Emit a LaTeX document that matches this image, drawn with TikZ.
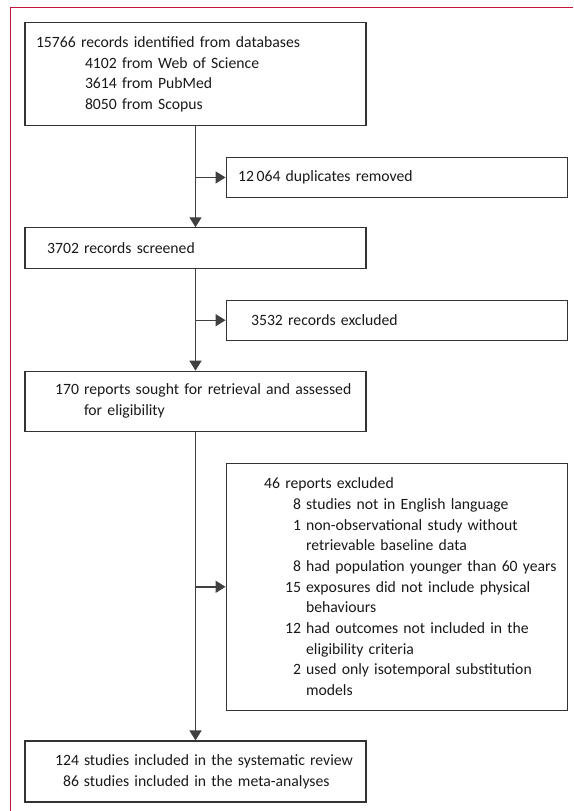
\documentclass[tikz,border=0pt]{standalone}
\usepackage{fontspec}
\setmainfont{Carlito}
\usetikzlibrary{arrows.meta, positioning}

\definecolor{lancetred}{HTML}{C4143C}
\newcommand{\row}[3]{\mbox{\makebox[#1][r]{#2}\hspace{5pt}#3}}

\begin{document}
\begin{tikzpicture}[
        x=1pt, y=1pt,
        font=\fontsize{15.7}{20.7}\selectfont,
        mainbox/.style={rectangle, draw=black!80, line width=1.1pt, inner xsep=0pt, inner ysep=0pt, text width=341pt, minimum width=341pt, align=left, text=black!90},
        sidebox/.style={mainbox},
        flow/.style={-{Triangle[length=10pt, width=12pt]}, draw=black!75, line width=1.4pt}
        ]
        \useasboundingbox (0,0) rectangle (573,-811);
        % Frame
        \draw[lancetred, line width=0.9pt] (573,-7.3) -- (10.3,-7.3) -- (10.3,-811);

        % Main column
        \node[mainbox, minimum height=103pt] (records) at (195.5,-74.2) {\hspace*{11pt}15766 records identified from databases\\\hspace*{60pt}4102 from Web of Science\\\hspace*{60pt}3614 from PubMed\\\hspace*{60pt}8050 from Scopus};

        \node[mainbox, minimum height=41pt, below=101pt of records] (screened) {\row{54pt}{3702}{records screened}};

        \node[mainbox, minimum height=60pt, below=101.3pt of screened] (sought) {\row{54pt}{170}{reports sought for retrieval and assessed}\\\row{54pt}{}{for eligibility}};

        \node[mainbox, minimum height=61pt, below=308.7pt of sought] (included) {\row{54pt}{124}{studies included in the systematic review}\\\row{54pt}{86}{studies included in the meta-analyses}};

        % Side boxes
        \node[sidebox, minimum height=40.7pt, below right=30.3pt and -141pt of records] (duplicates) {\hspace*{12pt}12\,064 duplicates removed};

        \node[sidebox, minimum height=40pt, below right=30.3pt and -141pt of screened] (screenout) {\hspace*{25pt}3532 records excluded};

        \node[sidebox, minimum height=247pt, below right=31pt and -141pt of sought] (reportsout) {\hspace*{38pt}46 reports excluded\\\row{75pt}{8}{studies not in English language}\\\row{75pt}{1}{non-observational study without}\\\row{75pt}{}{retrievable baseline data}\\\row{75pt}{8}{had population younger than 60 years}\\\row{75pt}{15}{exposures did not include physical}\\\row{75pt}{}{behaviours}\\\row{75pt}{12}{had outcomes not included in the}\\\row{75pt}{}{eligibility criteria}\\\row{75pt}{2}{used only isotemporal substitution}\\\row{75pt}{}{models}};

        % Connectors
        \draw[flow] (records) -- (screened);
        \draw[flow] (records.south |- duplicates.west) -- (duplicates.west);
        \draw[flow] (screened) -- (sought);
        \draw[flow] (screened.south |- screenout.west) -- (screenout.west);
        \draw[flow] (sought) -- (included);
        \draw[flow] (sought.south |- reportsout.west) -- (reportsout.west);
\end{tikzpicture}
\end{document}
